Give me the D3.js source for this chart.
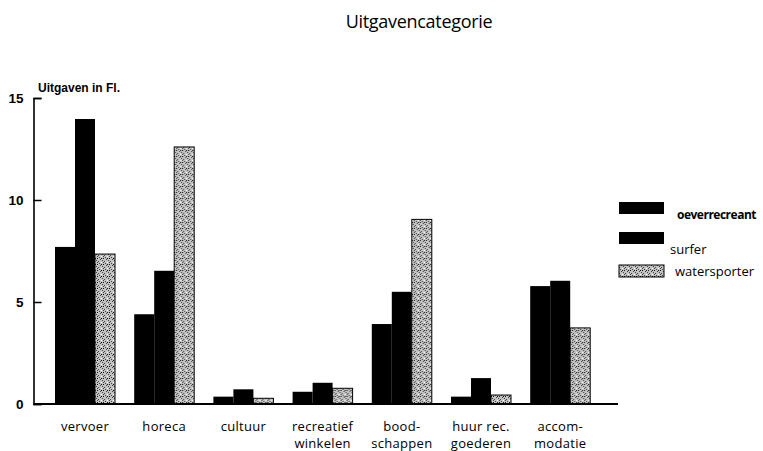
<!DOCTYPE html>
<html>
  <head>
    <meta charset="utf-8">
    <title>Uitgavencategorie</title>
    <style>
      body { margin: 0; background: #fff; }
      text { fill: #000; }
    </style>
  </head>
  <body>
    <script src="https://cdn.jsdelivr.net/npm/d3@7/dist/d3.min.js" charset="utf-8"></script>
    <script type="text/javascript">
      // categories (label lines) and the three series
      var categories = [
        ["vervoer"], ["horeca"], ["cultuur"], ["recreatief", "winkelen"],
        ["bood-", "schappen"], ["huur rec.", "goederen"], ["accom-", "modatie"]
      ];
      var oeverrecreant = [7.7, 4.4, 0.36, 0.6, 3.92, 0.36, 5.78];
      var surfer        = [13.97, 6.53, 0.72, 1.04, 5.5, 1.27, 6.04];
      var watersporter  = [7.35, 12.6, 0.28, 0.77, 9.05, 0.44, 3.73];
      var seriesNames = ["oeverrecreant", "surfer", "watersporter"];
      var yTicks = [0, 5, 10, 15];

      var width = 763;
      var height = 451;
      var svg = d3.select("body")
                  .append("svg")
                  .attr("width", width)
                  .attr("height", height);

      // stipple texture for watersporter
      var pat = svg.append("defs").append("pattern")
                   .attr("id", "stip")
                   .attr("patternUnits", "userSpaceOnUse")
                   .attr("width", 6).attr("height", 6);
      pat.append("rect").attr("width", 6).attr("height", 6).attr("fill", "#c2c2c2");
      var dots = [[0, 0], [3, 1], [1, 3], [4, 4], [5, 2], [2, 5], [4, 0], [0, 4]];
      pat.selectAll("rect.d").data(dots).enter().append("rect")
         .attr("class", "d")
         .attr("x", function(d) { return d[0]; })
         .attr("y", function(d) { return d[1]; })
         .attr("width", 1).attr("height", 1)
         .attr("fill", function(d, i) { return i % 3 ? "#444" : (i % 2 ? "#fff" : "#111"); });

      var fills = ["#000", "#000", "url(#stip)"];
      var keys = categories.map(function(c) { return c.join(" "); });
      var rows = keys.map(function(k, i) {
        return { key: k, lines: categories[i],
                 vals: [oeverrecreant[i], surfer[i], watersporter[i]] };
      });

      var x0 = d3.scaleBand().domain(keys).range([55, 590.2])
                 .paddingInner(19.2 / 79.2).paddingOuter(0);
      var x1 = d3.scaleBand().domain([0, 1, 2]).range([0, x0.bandwidth()]);
      var y = d3.scaleLinear().domain([0, 15]).range([404, 98]);

      // title
      svg.append("text")
         .attr("x", 419).attr("y", 28)
         .attr("text-anchor", "middle")
         .style("font-family", "'Open Sans', sans-serif")
         .style("font-size", "18px")
         .style("letter-spacing", "-0.3px")
         .text("Uitgavencategorie");

      // bars
      var groups = svg.selectAll("g.grp")
                      .data(rows)
                      .enter()
                      .append("g")
                      .attr("class", "grp")
                      .attr("transform", function(d) { return "translate(" + x0(d.key) + ",0)"; });

      groups.selectAll("rect")
            .data(function(d) { return d.vals; })
            .enter()
            .append("rect")
            .attr("x", function(d, i) { return x1(i); })
            .attr("width", x1.bandwidth())
            .attr("y", function(d) { return y(d); })
            .attr("height", function(d) { return y(0) - y(d); })
            .attr("fill", function(d, i) { return fills[i]; })
            .attr("stroke", "#000")
            .attr("stroke-width", function(d, i) { return i == 2 ? 1 : 0; });

      // category labels
      groups.append("text")
            .attr("x", x0.bandwidth() / 2)
            .attr("y", 431)
            .attr("text-anchor", "middle")
            .style("font-family", "'Open Sans', sans-serif")
            .style("font-size", "13px")
            .style("letter-spacing", "0.3px")
            .selectAll("tspan")
            .data(function(d) { return d.lines; })
            .enter()
            .append("tspan")
            .attr("x", x0.bandwidth() / 2)
            .attr("dy", function(d, i) { return i ? 16.5 : 0; })
            .text(function(d) { return d; });

      // y axis
      var yAxis = d3.axisLeft(y).tickValues(yTicks).tickSize(-8).tickPadding(10);
      var ga = svg.append("g")
                  .attr("transform", "translate(33.5,0)")
                  .call(yAxis);
      ga.select(".domain").attr("stroke-width", 1.6);
      ga.selectAll(".tick line").attr("stroke-width", 1.5);
      ga.selectAll(".tick text")
        .style("font-family", "'Liberation Sans', Arial, sans-serif")
        .style("font-size", "13.5px")
        .style("font-weight", "bold");

      // baseline
      svg.append("line")
         .attr("x1", 33.5).attr("x2", 618)
         .attr("y1", y(0)).attr("y2", y(0))
         .attr("stroke", "#000").attr("stroke-width", 2);

      svg.append("text")
         .attr("x", 38).attr("y", 92)
         .style("font-family", "'Liberation Sans', Arial, sans-serif")
         .style("font-size", "12px")
         .style("font-weight", "bold")
         .text("Uitgaven in Fl.");

      // legend
      var legY = [202, 232, 265];
      var legTx = [677, 670, 675];
      var legBase = [219, 254, 276];
      var leg = svg.selectAll("g.leg")
                   .data(seriesNames)
                   .enter()
                   .append("g")
                   .attr("class", "leg");
      leg.append("rect")
         .attr("x", 619).attr("y", function(d, i) { return legY[i]; })
         .attr("width", 45).attr("height", 12)
         .attr("fill", function(d, i) { return fills[i]; })
         .attr("stroke", "#000")
         .attr("stroke-width", function(d, i) { return i == 2 ? 1 : 0; });
      leg.append("text")
         .attr("x", function(d, i) { return legTx[i]; })
         .attr("y", function(d, i) { return legBase[i]; })
         .style("font-family", "'Open Sans', sans-serif")
         .style("font-size", function(d, i) { return i == 0 ? "12px" : "13px"; })
         .style("font-weight", function(d, i) { return i == 0 ? "bold" : "normal"; })
         .style("letter-spacing", function(d, i) { return i == 0 ? "-0.5px" : "0"; })
         .text(function(d) { return d; });
    </script>
  </body>
</html>
